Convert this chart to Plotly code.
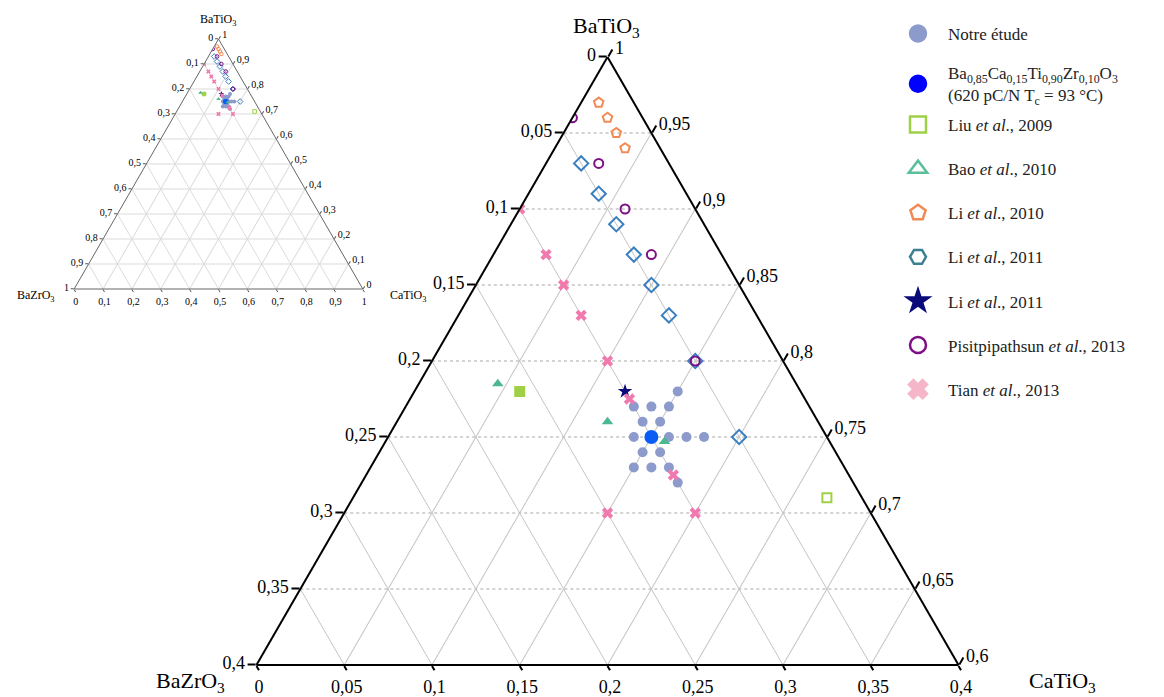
import plotly.graph_objects as go

# ---------------- data (BaZrO3 = b, CaTiO3 = c ; BaTiO3 = 1 - b - c) ----------------
notre_b = [0.07, 0.10, 0.09, 0.08, 0.10, 0.09, 0.11, 0.09, 0.08, 0.07, 0.11, 0.10, 0.12, 0.11, 0.10, 0.10]
notre_c = [0.15, 0.13, 0.14, 0.15, 0.14, 0.15, 0.14, 0.16, 0.17, 0.18, 0.15, 0.16, 0.15, 0.16, 0.17, 0.18]

bczt_b = [0.10]
bczt_c = [0.15]

liu_b = [0.16, 0.02]
liu_c = [0.06, 0.27]
liu_sym = ["square", "square-open"]

bao_b = [0.17, 0.12, 0.094]
bao_c = [0.045, 0.12, 0.159]

li10_b = [0.02, 0.02, 0.02, 0.02]
li10_c = [0.01, 0.02, 0.03, 0.04]

li11_b = [0.05, 0.05, 0.05, 0.05, 0.05, 0.05, 0.05, 0.05]
li11_c = [0.02, 0.04, 0.06, 0.08, 0.10, 0.12, 0.15, 0.20]

li11s_b = [0.10]
li11s_c = [0.12]

pisit_b = [0.04, 0.04, 0.04, 0.04, 0.05]
pisit_c = [0.00, 0.03, 0.06, 0.09, 0.15]

tian_b = [0.10, 0.10, 0.10, 0.10, 0.10, 0.10, 0.10, 0.15, 0.10]
tian_c = [0.00, 0.03, 0.05, 0.07, 0.10, 0.125, 0.175, 0.15, 0.20]

# tick values / labels
main_a_vals = [0.6, 0.65, 0.7, 0.75, 0.8, 0.85, 0.9, 0.95, 1.0]
main_a_text = ["0,4", "0,35", "0,3", "0,25", "0,2", "0,15", "0,1", "0,05", "0"]
main_b_vals = [0, 0.05, 0.1, 0.15, 0.2, 0.25, 0.3, 0.35, 0.4]
main_b_text = ["0,4", "0,35", "0,3", "0,25", "0,2", "0,15", "0,1", "0,05", "0"]
main_c_vals = [0, 0.05, 0.1, 0.15, 0.2, 0.25, 0.3, 0.35, 0.4]
main_c_text = ["1", "0,95", "0,9", "0,85", "0,8", "0,75", "0,7", "0,65", "0,6"]

ins_vals = [0, 0.1, 0.2, 0.3, 0.4, 0.5, 0.6, 0.7, 0.8, 0.9, 1.0]
ins_text = ["1", "0,9", "0,8", "0,7", "0,6", "0,5", "0,4", "0,3", "0,2", "0,1", "0"]

series = [
    dict(name="Notre étude", b=notre_b, c=notre_c, sym="circle", color="#8c9bcc", size=10, lw=0,
         lsym="circle", lcolor="#8c9bcc", leg="legend"),
    dict(name="Ba<sub>0,85</sub>Ca<sub>0,15</sub>Ti<sub>0,90</sub>Zr<sub>0,10</sub>O<sub>3</sub><br>(620 pC/N T<sub>c</sub> = 93 °C)",
         b=bczt_b, c=bczt_c, sym="circle", color="#0b5cf5", size=14, lw=0, lsym="circle", lcolor="#0000ff",
         leg="legend"),
    dict(name="Liu <i>et al</i>., 2009", b=liu_b, c=liu_c, sym=liu_sym, color="#9fd045", size=9, lw=2,
         lsym="square-open", lcolor="#9fd045", leg="legend2"),
    dict(name="Bao <i>et al</i>., 2010", b=bao_b, c=bao_c, sym="triangle-up", color="#4cb88f", size=10, lw=0,
         lsym="triangle-up-open", lcolor="#5cbf9c", leg="legend2"),
    dict(name="Li <i>et al</i>., 2010", b=li10_b, c=li10_c, sym="pentagon-open", color="#f28a55", size=10, lw=2,
         lsym="pentagon-open", lcolor="#f28a55", leg="legend2"),
    dict(name="Li <i>et al</i>., 2011", b=li11_b, c=li11_c, sym="diamond-open", color="#3a7fc0", size=11, lw=2,
         lsym="hexagon2-open", lcolor="#3a7f92", leg="legend2"),
    dict(name="Li <i>et al</i>., 2011 ", b=li11s_b, c=li11s_c, sym="star", color="#0a0a7a", size=11, lw=0,
         lsym="star", lcolor="#0a0a7a", leg="legend2"),
    dict(name="Pisitpipathsun <i>et al</i>., 2013", b=pisit_b, c=pisit_c, sym="circle-open", color="#7e0f86",
         size=9, lw=2, lsym="circle-open", lcolor="#7e0f86", leg="legend2"),
    dict(name="Tian <i>et al</i>., 2013", b=tian_b, c=tian_c, sym="x", color="#f07aae", size=10, lw=0,
         lsym="x", lcolor="#f4b6c8", leg="legend2"),
]

fig = go.Figure()

for i, s in enumerate(series):
    # main ternary
    fig.add_trace(go.Scatterternary(
        b=s["b"], c=s["c"], mode="markers", subplot="ternary", showlegend=False,
        marker=dict(symbol=s["sym"], color=s["color"], size=s["size"],
                    line=dict(width=s["lw"], color=s["color"])),
        hoverinfo="skip"))
    # inset
    fig.add_trace(go.Scatterternary(
        b=s["b"], c=s["c"], mode="markers", subplot="ternary2", showlegend=False,
        marker=dict(symbol=s["sym"], color=s["color"], size=max(3, s["size"] * 0.4),
                    line=dict(width=1 if s["lw"] else 0, color=s["color"])),
        hoverinfo="skip"))
    # legend entry
    fig.add_trace(go.Scatterternary(
        b=[None], c=[None], mode="markers", subplot="ternary", name=s["name"],
        legendgroup="g%d" % i, showlegend=True, legend=s["leg"],
        marker=dict(symbol=s["lsym"], color=s["lcolor"], size=18,
                    line=dict(width=2.5, color=s["lcolor"]))))

serif = "Liberation Serif"
W, H = 1164, 697


def px(x, y):
    return x / W, 1 - y / H


def axis_main(vals, text, mn, dotted=False, tl=8):
    return dict(
        min=mn, tickmode="array", tickvals=vals, ticktext=text,
        ticks="outside", ticklen=tl, tickwidth=1.5, tickcolor="black",
        showline=True, linecolor="black", linewidth=2,
        showgrid=True, gridcolor="#a8a8a8" if dotted else "#c4c4c4", gridwidth=1,
        griddash="dot" if dotted else "solid",
        tickfont=dict(family=serif, size=18, color="black"),
        title=dict(text=""),
    )


def axis_ins(vals, text):
    return dict(
        min=0, tickmode="array", tickvals=vals, ticktext=text,
        ticks="outside", ticklen=3, tickwidth=1, tickcolor="#555",
        showline=True, linecolor="#666", linewidth=1,
        showgrid=True, gridcolor="#dcdcdc", gridwidth=1,
        tickfont=dict(family=serif, size=10, color="black"),
        title=dict(text=""),
    )


x0, y0 = px(255, 665)
x1, y1 = px(960, 57)
ix0, iy0 = px(74, 289)
ix1, iy1 = px(363, 39)

lx, _ = px(888, 0)
_, ly1 = px(0, 16)
_, ly2 = px(0, 107)

legend_common = dict(
    xanchor="left", yanchor="top",
    font=dict(family=serif, size=17, color="#222"),
    itemsizing="trace", itemwidth=50, bgcolor="rgba(0,0,0,0)",
)

fig.update_layout(
    width=W, height=H, margin=dict(l=0, r=0, t=0, b=0),
    paper_bgcolor="white", plot_bgcolor="white",
    ternary=dict(
        sum=1, bgcolor="white",
        domain=dict(x=[x0, x1], y=[y0, y1]),
        aaxis=axis_main(main_a_vals, main_a_text, 0.6, dotted=True),
        baxis=axis_main(main_b_vals, main_b_text, 0.0, tl=5),
        caxis=axis_main(main_c_vals, main_c_text, 0.0),
    ),
    ternary2=dict(
        sum=1, bgcolor="white",
        domain=dict(x=[ix0, ix1], y=[iy0, iy1]),
        aaxis=axis_ins(ins_vals, ins_text),
        baxis=axis_ins(ins_vals, ins_text),
        caxis=axis_ins(ins_vals, ins_text),
    ),
    legend=dict(x=lx, y=ly1, tracegroupgap=14, **legend_common),
    legend2=dict(x=lx, y=ly2, tracegroupgap=19, **legend_common),
    showlegend=True,
)

titles = [
    ("BaTiO<sub>3</sub>", 606, 27, 22),
    ("BaZrO<sub>3</sub>", 190, 682, 22),
    ("CaTiO<sub>3</sub>", 1062, 682, 22),
    ("BaTiO<sub>3</sub>", 218, 20, 12),
    ("BaZrO<sub>3</sub>", 36, 296, 12),
    ("CaTiO<sub>3</sub>", 408, 296, 12),
]
for t, x, y, fs in titles:
    ax, ay = px(x, y)
    fig.add_annotation(text=t, x=ax, y=ay, xref="paper", yref="paper",
                       xanchor="center", yanchor="middle", showarrow=False,
                       font=dict(family=serif, size=fs, color="black"))

# remove the default page margin so the figure fills the window exactly
fig.write_html("out.html", config={"displayModeBar": False},
               post_script="document.body.style.margin='0';document.body.style.overflow='hidden';")
